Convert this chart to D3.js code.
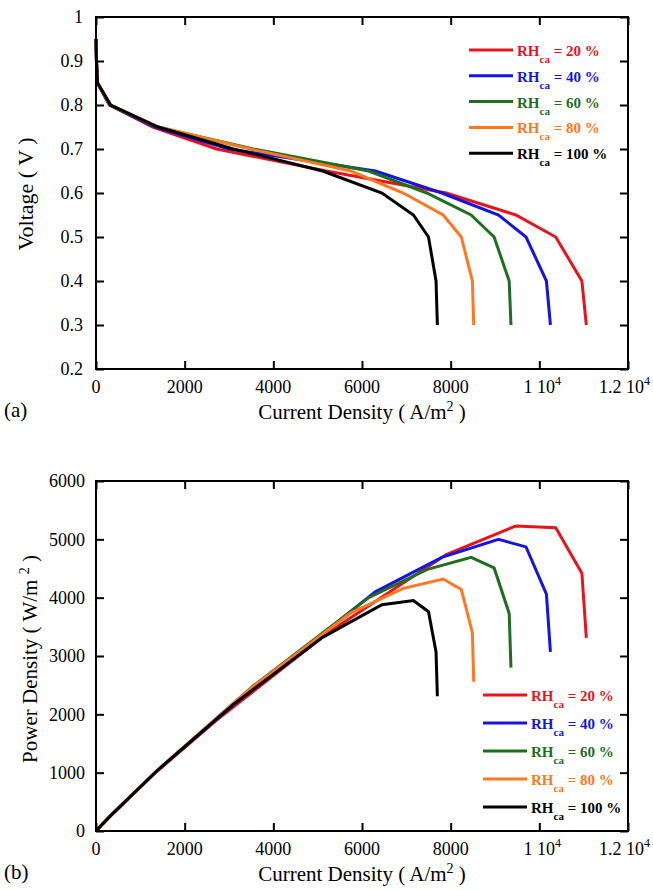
<!DOCTYPE html>
<html>
<head>
<meta charset="utf-8">
<script src="https://cdn.jsdelivr.net/npm/d3@7"></script>
<style>
  body { margin: 0; background: #fff; }
  svg, svg text, svg tspan { font-family: "Liberation Serif", "DejaVu Serif", serif !important; }
</style>
</head>
<body>
<div id="chart"></div>
<script>
// Values
const voltage = [0.95, 0.9, 0.85, 0.8, 0.75, 0.7, 0.65, 0.6, 0.55, 0.5, 0.4, 0.3];

const currentRH20  = [0, 10, 35, 300, 1280, 2720, 5200, 7900, 9470, 10370, 10960, 11060];
const currentRH40  = [0, 10, 35, 310, 1330, 3000, 6300, 7800, 9080, 9700, 10160, 10250];
const currentRH60  = [0, 10, 35, 320, 1380, 3550, 6150, 7460, 8460, 8980, 9320, 9360];
const currentRH80  = [0, 10, 35, 330, 1420, 3480, 5750, 6930, 7830, 8240, 8490, 8520];
const currentRH100 = [0, 10, 35, 330, 1400, 3100, 5110, 6450, 7160, 7500, 7670, 7700];

const powerRH20  = [0, 9, 30, 240, 960, 1900, 3380, 4740, 5230, 5200, 4420, 3310];
const powerRH40  = [0, 9, 30, 248, 1000, 2100, 4100, 4690, 5000, 4870, 4060, 3070];
const powerRH60  = [0, 9, 30, 256, 1035, 2490, 4000, 4480, 4690, 4510, 3730, 2800];
const powerRH80  = [0, 9, 30, 264, 1065, 2440, 3740, 4160, 4320, 4140, 3400, 2560];
const powerRH100 = [0, 9, 30, 264, 1050, 2170, 3320, 3880, 3950, 3760, 3070, 2310];

const seriesNames = ["20", "40", "60", "80", "100"];
const seriesColors = ["#e8141c", "#1414e6", "#1e6e1e", "#ff7820", "#000000"];

const xTicks = [0, 2000, 4000, 6000, 8000, 10000, 12000];
const voltageTicks = [0.2, 0.3, 0.4, 0.5, 0.6, 0.7, 0.8, 0.9, 1];
const powerTicks = [0, 1000, 2000, 3000, 4000, 5000, 6000];

const currents = [currentRH20, currentRH40, currentRH60, currentRH80, currentRH100];
const powers = [powerRH20, powerRH40, powerRH60, powerRH80, powerRH100];

const FONT = "'Liberation Serif', 'DejaVu Serif', serif";

const svg = d3.select("#chart")
    .append("svg")
    .attr("width", 653)
    .attr("height", 890)
    .attr("font-family", FONT);

// Shared x scale range
const left = 96, right = 628;

function drawPanel(cfg) {
    const x = d3.scaleLinear().domain([0, 12000]).range([left, right]);
    const y = d3.scaleLinear().domain(cfg.yDomain).range([cfg.bottom, cfg.top]);

    const g = svg.append("g");

    // inward ticks on all four sides
    const axes = [
        { axis: d3.axisBottom(x).tickValues(xTicks), t: `translate(0,${cfg.bottom})` },
        { axis: d3.axisTop(x).tickValues(xTicks), t: `translate(0,${cfg.top})` },
        { axis: d3.axisLeft(y).tickValues(cfg.yTicks), t: `translate(${left},0)` },
        { axis: d3.axisRight(y).tickValues(cfg.yTicks), t: `translate(${right},0)` }
    ];
    axes.forEach(a => {
        const ax = g.append("g")
            .attr("transform", a.t)
            .call(a.axis.tickSize(-8).tickSizeOuter(0).tickFormat(""));
        ax.select(".domain").remove();
        ax.selectAll("line").attr("stroke", "#000").attr("stroke-width", 2);
    });

    // curves
    const line = d3.line().x(d => x(d[0])).y(d => y(d[1]));
    currents.forEach((cur, k) => {
        const pts = cur.map((c, i) => [c, cfg.yValues[k][i]]);
        g.append("path")
            .datum(pts)
            .attr("fill", "none")
            .attr("stroke", seriesColors[k])
            .attr("stroke-width", 3)
            .attr("d", line);
    });

    // frame
    g.append("rect")
        .attr("x", left)
        .attr("y", cfg.top)
        .attr("width", right - left)
        .attr("height", cfg.bottom - cfg.top)
        .attr("fill", "none")
        .attr("stroke", "#000")
        .attr("stroke-width", 2);

    // y tick labels
    g.selectAll(".ylab")
        .data(cfg.yTicks)
        .enter().append("text")
        .attr("x", cfg.yLabelX)
        .attr("y", d => y(d))
        .attr("dy", "0.35em")
        .attr("text-anchor", "end")
        .style("font-size", "18px")
        .text(cfg.yFormat);

    // x tick labels (with 10^4 notation)
    xTicks.forEach(v => {
        const t = g.append("text")
            .attr("x", x(v))
            .attr("y", cfg.bottom + 24)
            .attr("text-anchor", "middle")
            .style("font-size", "18px");
        if (v >= 10000) {
            if (v === 12000) t.attr("text-anchor", "end").attr("x", 650);
            else t.attr("x", x(v) + 3);
            t.append("tspan").text((v / 10000) + " 10");
            t.append("tspan").attr("dy", -8).style("font-size", "12px").text("4");
        } else {
            t.text(v);
        }
    });

    // x title
    const xt = g.append("text")
        .attr("x", (left + right) / 2)
        .attr("y", cfg.bottom + 50)
        .attr("text-anchor", "middle")
        .style("font-size", "21px");
    xt.append("tspan").text("Current Density ( A/m");
    xt.append("tspan").attr("dy", -8).style("font-size", "14px").text("2");
    xt.append("tspan").attr("dy", 8).text(" )");

    // panel letter
    g.append("text")
        .attr("x", 4)
        .attr("y", cfg.bottom + 48)
        .style("font-size", "21px")
        .text(cfg.letter);

    // y title
    const yt = g.append("text")
        .attr("transform", `translate(${cfg.yTitleX},${cfg.yTitleY}) rotate(-90)`)
        .attr("text-anchor", "middle")
        .style("font-size", cfg.yTitleSize);
    cfg.yTitle(yt);

    // legend
    const legend = g.selectAll(".legend")
        .data(seriesNames)
        .enter().append("g")
        .attr("transform", (d, i) => `translate(${cfg.legX},${cfg.legY + i * cfg.legStep})`);

    legend.append("line")
        .attr("x1", 0).attr("x2", 44)
        .attr("y1", 0).attr("y2", 0)
        .attr("stroke", (d, i) => seriesColors[i])
        .attr("stroke-width", 3);

    const lt = legend.append("text")
        .attr("x", 48)
        .attr("y", 6)
        .attr("fill", (d, i) => seriesColors[i])
        .style("font-size", "15px")
        .style("font-weight", "bold");
    lt.append("tspan").text("RH");
    lt.append("tspan").attr("dy", 7).style("font-size", "11px").text("ca");
    lt.append("tspan").attr("dy", -7).text(d => " = " + d + " %");
}

drawPanel({
    top: 17, bottom: 369,
    yDomain: [0.2, 1],
    yTicks: voltageTicks,
    yValues: currents.map(() => voltage),
    yFormat: d => d === 1 ? "1" : d3.format(".1f")(d),
    yLabelX: 83,
    yTitleX: 33, yTitleY: 194, yTitleSize: "22px",
    yTitle: t => t.text("Voltage ( V )"),
    letter: "(a)",
    legX: 469, legY: 50, legStep: 25.8
});

drawPanel({
    top: 481, bottom: 831,
    yDomain: [0, 6000],
    yTicks: powerTicks,
    yValues: powers,
    yFormat: d => d,
    yLabelX: 85,
    yTitleX: 37, yTitleY: 659, yTitleSize: "21px",
    yTitle: t => {
        t.append("tspan").text("Power Density ( W/m ");
        t.append("tspan").attr("dy", -8).style("font-size", "14px").text("2");
        t.append("tspan").attr("dy", 8).text(" )");
    },
    letter: "(b)",
    legX: 483, legY: 695, legStep: 28
});
</script>
</body>
</html>
